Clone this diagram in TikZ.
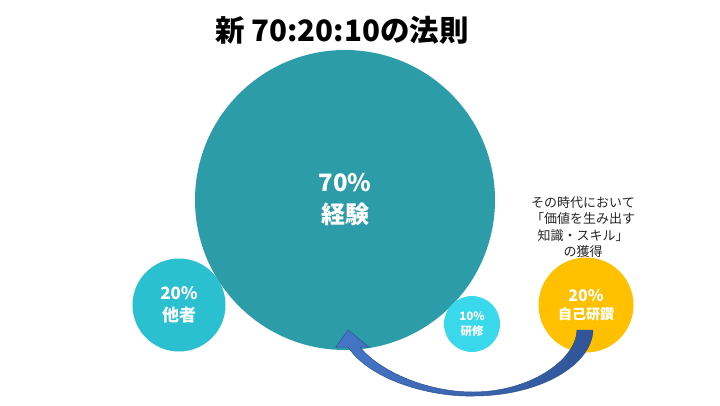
\documentclass[tikz,border=0pt]{standalone}
\usepackage{fontspec}
\setmainfont{Noto Sans CJK JP}
\definecolor{bigteal}{RGB}{43,156,168}
\definecolor{othercol}{RGB}{43,192,208}
\definecolor{smallcol}{RGB}{58,216,235}
\definecolor{yellowcol}{RGB}{255,192,0}
\definecolor{arrowlight}{RGB}{70,118,200}
\definecolor{arrowdark}{RGB}{47,85,151}
\definecolor{arrowedge}{RGB}{47,82,143}
\definecolor{txtdark}{RGB}{38,38,38}
\tikzset{
  bubble/.style={circle, inner sep=0pt, text=white, align=center, font=\bfseries},
}
\begin{document}
\begin{tikzpicture}[x=1pt,y=-1pt]
\useasboundingbox[fill=white] (0,0) rectangle (720,405);
\node[font=\bfseries\fontsize{29.5}{34}\selectfont, text=black] (title) at (342,30) {新 70:20:10の法則};
\node[bubble, fill=othercol, minimum size=93pt, font=\bfseries\fontsize{17}{22}\selectfont] (other) at (179,305) {20\%\\他者};
\node[bubble, fill=bigteal, minimum size=300pt, font=\bfseries\fontsize{24}{32}\selectfont] (big) at (345,200) {70\%\\経験};
\node[bubble, fill=smallcol, minimum size=56pt, font=\bfseries\fontsize{11.5}{15}\selectfont] (train) at (472,324) {10\%\\研修};
\node[bubble, fill=yellowcol, minimum size=95pt, font=\bfseries\fontsize{16}{18}\selectfont] (self) at (586,305) {20\%\\{\fontsize{14}{18}\selectfont 自己研鑽}};
\node[text=txtdark, align=center, font=\fontsize{13}{16.5}\selectfont] (note) at (583,227) {その時代において\\「価値を生み出す\\知識・スキル」\\の獲得};
\path[draw=arrowedge, line width=0.5pt, left color=arrowlight, right color=arrowdark]
  (593,330) .. controls (592,365) and (540,396) .. (473,396)
  .. controls (430,397) and (370,380) .. (348,347)
  -- (336,347) -- (348,330) -- (369,347) -- (360,347)
  .. controls (378,370) and (425,392) .. (473,392)
  .. controls (530,392) and (576,360) .. (577,330) -- cycle;
\end{tikzpicture}
\end{document}
